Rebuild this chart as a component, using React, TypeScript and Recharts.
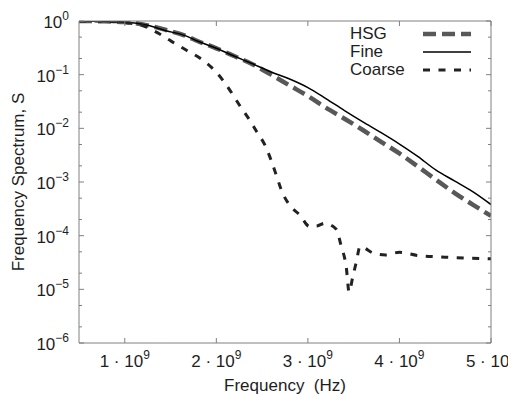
import { Legend, Line, LineChart, XAxis, YAxis } from 'recharts';

// frequency in units of 1e9 Hz, spectrum S
const FREQ_HSG = [0.5, 0.75, 1.0, 1.25, 1.45, 1.65, 1.8, 2.0, 2.2, 2.4, 2.6, 2.8, 3.0, 3.2, 3.4, 3.6, 3.8, 4.0, 4.2, 4.4, 4.6, 4.8, 5.0];
const S_HSG = [1.0, 0.99, 0.955, 0.83, 0.68, 0.54, 0.42, 0.31, 0.22, 0.155, 0.1, 0.063, 0.04, 0.024, 0.0151, 0.0093, 0.0056, 0.0034, 0.00195, 0.0011, 0.00063, 0.00038, 0.000234];

const FREQ_FINE = [0.5, 0.75, 1.0, 1.25, 1.45, 1.65, 1.8, 2.0, 2.2, 2.4, 2.6, 2.8, 3.0, 3.2, 3.4, 3.6, 3.8, 4.0, 4.2, 4.4, 4.6, 4.8, 5.0];
const S_FINE = [1.0, 0.99, 0.955, 0.83, 0.66, 0.54, 0.42, 0.31, 0.22, 0.158, 0.112, 0.083, 0.0575, 0.0355, 0.0214, 0.0132, 0.0083, 0.0051, 0.003, 0.00166, 0.00105, 0.00066, 0.00038];

const FREQ_COARSE = [0.5, 0.75, 1.0, 1.2, 1.36, 1.51, 1.67, 1.82, 1.95, 2.07, 2.16, 2.25, 2.35, 2.44, 2.53, 2.6, 2.66, 2.71, 2.8, 2.91, 3.02, 3.1, 3.18, 3.31, 3.36, 3.42, 3.45, 3.49, 3.53, 3.57, 3.72, 3.85, 4.0, 4.2, 4.5, 4.8, 5.0];
const S_COARSE = [1.0, 0.99, 0.933, 0.813, 0.6, 0.417, 0.288, 0.204, 0.135, 0.0794, 0.0479, 0.0275, 0.0155, 0.0087, 0.0049, 0.0025, 0.00126, 0.00071, 0.00037, 0.000245, 0.000148, 0.000151, 0.00017, 0.000132, 0.0000676, 0.0000251, 0.0000089, 0.000017, 0.000033, 0.000063, 0.0000468, 0.0000437, 0.000049, 0.0000427, 0.0000398, 0.000038, 0.0000372];

const X_TICKS = [1e9, 2e9, 3e9, 4e9, 5e9];
const Y_TICKS = [1e-6, 1e-5, 1e-4, 1e-3, 1e-2, 1e-1, 1];
const Y_MINOR = [2e-6, 5e-6, 2e-5, 5e-5, 2e-4, 5e-4, 2e-3, 5e-3, 2e-2, 5e-2, 0.2, 0.5];

const FONT = '"Liberation Sans", Arial, sans-serif';
const TEXT = '#1e1e1e';
const AXIS = '#808080';

const SERIES = [
  { key: 'hsg', label: 'HSG', freq: FREQ_HSG, s: S_HSG, color: '#585858', width: 4.5, dash: '13 6' },
  { key: 'fine', label: 'Fine', freq: FREQ_FINE, s: S_FINE, color: '#000000', width: 1.5, dash: undefined },
  { key: 'coarse', label: 'Coarse', freq: FREQ_COARSE, s: S_COARSE, color: '#222222', width: 3, dash: '7 8.5' },
];

const toPoints = (freq: number[], s: number[]) => freq.map((f, i) => ({ f: f * 1e9, s: s[i] }));

const isMajor = (v: number) => {
  const e = Math.log10(v);
  return Math.abs(e - Math.round(e)) < 1e-6;
};
const fmtExp = (e: number) => (e < 0 ? `\u2212${-e}` : `${e}`);

function LeftTick({ x, y, payload }: any) {
  const v = payload.value;
  const major = isMajor(v);
  return (
    <g>
      <line x1={x} x2={x + (major ? 5 : 3)} y1={y} y2={y} stroke={AXIS} />
      {major && (
        <text x={x - 10} y={y + 7} textAnchor="end" fill={TEXT} fontSize={17} fontFamily={FONT}>
          10<tspan dy={-8} fontSize={12}>{fmtExp(Math.round(Math.log10(v)))}</tspan>
        </text>
      )}
    </g>
  );
}

function RightTick({ x, y, payload }: any) {
  const major = isMajor(payload.value);
  return <line x1={x} x2={x - (major ? 5 : 3)} y1={y} y2={y} stroke={AXIS} />;
}

function BottomTick({ x, y, payload }: any) {
  return (
    <g>
      <line x1={x} x2={x} y1={y} y2={y - 5} stroke={AXIS} />
      <text x={x} y={y + 23.5} textAnchor="middle" fill={TEXT} fontSize={17} fontFamily={FONT}>
        {`${payload.value / 1e9} \u00b7 10`}
        <tspan dy={-7.5} fontSize={12}>9</tspan>
      </text>
    </g>
  );
}

function TopTick({ x, y }: any) {
  return <line x1={x} x2={x} y1={y} y2={y + 5} stroke={AXIS} />;
}

function XTitle({ viewBox }: any) {
  const vb = viewBox ?? { x: 71, y: 335, width: 412, height: 53 };
  return (
    <text
      x={vb.x + vb.width / 2}
      y={vb.y + 47.7}
      textAnchor="middle"
      fill={TEXT}
      fontSize={17}
      fontFamily={FONT}
      style={{ whiteSpace: 'pre' }}
    >
      {'Frequency  (Hz)'}
    </text>
  );
}

function YTitle({ viewBox }: any) {
  const vb = viewBox ?? { x: 0, y: 13, width: 71, height: 322 };
  const x = vb.x + 15.5;
  const cy = vb.y + vb.height / 2;
  return (
    <text
      x={x}
      y={cy}
      transform={`rotate(-90 ${x} ${cy})`}
      textAnchor="middle"
      fill={TEXT}
      fontSize={17}
      fontFamily={FONT}
    >
      Frequency Spectrum, S
    </text>
  );
}

function LegendBox() {
  return (
    <div style={{ fontFamily: FONT, fontSize: 17, lineHeight: '18px', color: TEXT }}>
      {SERIES.map((s) => (
        <div key={s.key} style={{ display: 'flex', height: 18 }}>
          <span style={{ width: 73 }}>{s.label}</span>
          <svg width={50} height={18}>
            <line x1={0} x2={48} y1={9} y2={9} stroke={s.color} strokeWidth={s.width} strokeDasharray={s.dash} />
          </svg>
        </div>
      ))}
    </div>
  );
}

export default function App() {
  return (
    <>
      <style>{'html,body{overflow:hidden}.recharts-wrapper,.recharts-surface{overflow:visible}'}</style>
      <LineChart width={530} height={388} margin={{ top: 12, right: 46, bottom: 0, left: 0 }}>
        <XAxis
          xAxisId="bottom"
          dataKey="f"
          type="number"
          domain={[0.5e9, 5e9]}
          allowDataOverflow
          ticks={X_TICKS}
          interval={0}
          height={53}
          tickSize={0}
          tickMargin={0}
          tickLine={false}
          axisLine={{ stroke: AXIS }}
          tick={<BottomTick />}
          label={{ content: <XTitle /> }}
        />
        <XAxis
          xAxisId="top"
          orientation="top"
          dataKey="f"
          type="number"
          domain={[0.5e9, 5e9]}
          allowDataOverflow
          ticks={X_TICKS}
          interval={0}
          height={1}
          tickSize={0}
          tickMargin={0}
          tickLine={false}
          axisLine={{ stroke: AXIS }}
          tick={<TopTick />}
        />
        <YAxis
          yAxisId="left"
          type="number"
          scale="log"
          domain={[1e-6, 1]}
          allowDataOverflow
          ticks={[...Y_TICKS, ...Y_MINOR]}
          interval={0}
          width={71}
          tickSize={0}
          tickMargin={0}
          tickLine={false}
          axisLine={{ stroke: AXIS }}
          tick={<LeftTick />}
          label={{ content: <YTitle /> }}
        />
        <YAxis
          yAxisId="right"
          orientation="right"
          type="number"
          scale="log"
          domain={[1e-6, 1]}
          allowDataOverflow
          ticks={[...Y_TICKS, ...Y_MINOR]}
          interval={0}
          width={1}
          tickSize={0}
          tickMargin={0}
          tickLine={false}
          axisLine={{ stroke: AXIS }}
          tick={<RightTick />}
        />
        <Legend
          layout="vertical"
          align="center"
          verticalAlign="middle"
          wrapperStyle={{ left: 342, top: 17, width: 130 }}
          content={<LegendBox />}
        />
        {SERIES.map((s) => (
          <Line
            key={s.key}
            xAxisId="bottom"
            yAxisId="left"
            data={toPoints(s.freq, s.s)}
            dataKey="s"
            name={s.label}
            type="monotone"
            stroke={s.color}
            strokeWidth={s.width}
            strokeDasharray={s.dash}
            dot={false}
            activeDot={false}
            isAnimationActive={false}
          />
        ))}
      </LineChart>
    </>
  );
}
